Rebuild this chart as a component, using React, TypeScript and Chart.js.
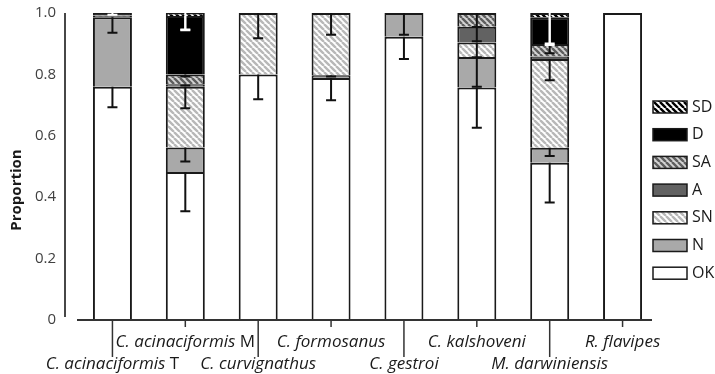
import { useEffect, useRef } from 'react';
import { Chart, registerables } from 'chart.js';

Chart.register(...registerables);

// ---- data ----
const categories = [
  'C. acinaciformis',
  'C. acinaciformis',
  'C. curvignathus',
  'C. formosanus',
  'C. gestroi',
  'C. kalshoveni',
  'M. darwiniensis',
  'R. flavipes',
];
const categorySuffix = ['T', 'M', '', '', '', '', '', ''];

const seriesNames = ['OK', 'N', 'SN', 'A', 'SA', 'D', 'SD'];
const okValues = [0.76, 0.482, 0.8, 0.788, 0.923, 0.757, 0.512, 1.0];
const nValues = [0.226, 0.08, 0, 0.009, 0.077, 0.1, 0.049, 0];
const snValues = [0.004, 0.198, 0.2, 0.203, 0, 0.047, 0.289, 0];
const aValues = [0, 0.008, 0, 0, 0, 0.051, 0.008, 0];
const saValues = [0.002, 0.032, 0, 0, 0, 0.045, 0.041, 0];
const dValues = [0.008, 0.19, 0, 0, 0, 0, 0.087, 0];
const sdValues = [0, 0.01, 0, 0, 0, 0, 0.014, 0];

// minus-direction error bars (drawn down from the top of each segment)
const okErr = [0.067, 0.128, 0.081, 0.072, 0.073, 0.131, 0.129, 0];
const nErr = [0.05, 0.046, 0, 0.004, 0.071, 0.097, 0.027, 0];
const snErr = [0, 0.07, 0.082, 0.071, 0, 0.048, 0.069, 0];
const aErr = [0, 0.004, 0, 0, 0, 0.047, 0, 0];
const saErr = [0, 0.007, 0, 0, 0, 0.046, 0.03, 0];
const dErr = [0, 0.046, 0, 0, 0, 0, 0.09, 0];
const sdErr = [0.006, 0.054, 0, 0, 0, 0, 0.099, 0];

const yTicks = [0, 0.2, 0.4, 0.6, 0.8, 1.0];

const FONT = '"Open Sans", sans-serif';

function makePattern(fg: string, bg: string, period: number, lw: number) {
  const c = document.createElement('canvas');
  c.width = period;
  c.height = period;
  const ctx = c.getContext('2d')!;
  ctx.fillStyle = bg;
  ctx.fillRect(0, 0, period, period);
  ctx.strokeStyle = fg;
  ctx.lineWidth = lw;
  ctx.beginPath();
  for (let k = -1; k <= 1; k++) {
    ctx.moveTo(k * period, 0);
    ctx.lineTo(k * period + period, period);
  }
  ctx.stroke();
  return ctx.createPattern(c, 'repeat')!;
}

export default function App() {
  const ref = useRef<HTMLCanvasElement>(null);

  useEffect(() => {
    const fills: any[] = [
      '#ffffff',
      '#a9a9a9',
      makePattern('#b8b8b8', '#ffffff', 6, 2.4),
      '#626262',
      makePattern('#5e5e5e', '#d4d4d4', 6, 2.4),
      '#000000',
      makePattern('#000000', '#ffffff', 6, 2.4),
    ];
    const values = [okValues, nValues, snValues, aValues, saValues, dValues, sdValues];
    const errs = [okErr, nErr, snErr, aErr, saErr, dErr, sdErr];
    const errColors = ['#111', '#111', '#111', '#111', '#111', '#ffffff', '#ffffff'];

    const datasets = seriesNames.map((name, i) => ({
      label: name,
      data: values[i],
      backgroundColor: fills[i],
      borderColor: '#1a1a1a',
      borderWidth: { top: 2, left: 2, right: 2, bottom: 0 },
      borderSkipped: 'start' as const,
      categoryPercentage: 1,
      barPercentage: 0.535,
    }));

    const decor = {
      id: 'decor',
      afterDatasetsDraw(chart: any) {
        const ctx = chart.ctx;
        const xs = chart.scales.x;
        const ys = chart.scales.y;
        ctx.save();
        for (let j = 0; j < categories.length; j++) {
          let cum = 0;
          for (let i = 0; i < values.length; i++) {
            cum += values[i][j];
            const e = errs[i][j];
            if (!e) continue;
            const x = xs.getPixelForValue(j);
            const y0 = ys.getPixelForValue(cum);
            const y1 = ys.getPixelForValue(cum - e);
            ctx.strokeStyle = errColors[i];
            ctx.lineWidth = 2;
            ctx.beginPath();
            ctx.moveTo(x, y0);
            ctx.lineTo(x, y1);
            ctx.moveTo(x - 5, y1);
            ctx.lineTo(x + 5, y1);
            ctx.stroke();
          }
        }
        ctx.restore();
      },
      afterDraw(chart: any) {
        const ctx = chart.ctx;
        const ca = chart.chartArea;
        const xs = chart.scales.x;
        ctx.save();
        ctx.strokeStyle = '#333';
        ctx.lineWidth = 1.8;
        // y axis line
        ctx.beginPath();
        ctx.moveTo(ca.left - 11, ca.top);
        ctx.lineTo(ca.left - 11, ca.bottom - 3);
        ctx.stroke();
        // x axis line
        ctx.beginPath();
        ctx.moveTo(ca.left + 1, ca.bottom);
        ctx.lineTo(ca.right - 7, ca.bottom);
        ctx.stroke();
        // category labels, staggered
        ctx.fillStyle = '#1a1a1a';
        ctx.textBaseline = 'middle';
        ctx.textAlign = 'left';
        for (let j = 0; j < categories.length; j++) {
          const x = xs.getPixelForValue(j);
          const lower = j % 2 === 0;
          ctx.lineWidth = 1.5;
          ctx.beginPath();
          ctx.moveTo(x, ca.bottom);
          ctx.lineTo(x, ca.bottom + (lower ? 37 : 7));
          ctx.stroke();
          const italicFont = `italic 17px ${FONT}`;
          const normalFont = `17px ${FONT}`;
          ctx.font = italicFont;
          const w1 = ctx.measureText(categories[j]).width;
          const suf = categorySuffix[j] ? ' ' + categorySuffix[j] : '';
          ctx.font = normalFont;
          const w2 = suf ? ctx.measureText(suf).width : 0;
          const start = x - (w1 + w2) / 2;
          const ty = ca.bottom + (lower ? 44 : 22);
          ctx.font = italicFont;
          ctx.fillText(categories[j], start, ty);
          if (suf) {
            ctx.font = normalFont;
            ctx.fillText(suf, start + w1, ty);
          }
        }
        // y title
        ctx.save();
        ctx.translate(17, 190);
        ctx.rotate(-Math.PI / 2);
        ctx.textAlign = 'center';
        ctx.font = `bold 15px ${FONT}`;
        ctx.fillText('Proportion', 0, 0);
        ctx.restore();
        // legend (reverse order)
        const lx = ca.right - 6;
        for (let k = 0; k < seriesNames.length; k++) {
          const i = seriesNames.length - 1 - k;
          const cy = 107 + k * 27.7;
          ctx.fillStyle = fills[i];
          ctx.fillRect(lx, cy - 6, 34, 12);
          ctx.strokeStyle = '#1a1a1a';
          ctx.lineWidth = 1.5;
          ctx.strokeRect(lx, cy - 6, 34, 12);
          ctx.fillStyle = '#1a1a1a';
          ctx.font = `16px ${FONT}`;
          ctx.textAlign = 'left';
          ctx.fillText(seriesNames[i], lx + 39, cy);
        }
        ctx.restore();
      },
    };

    const chart = new Chart(ref.current!, {
      type: 'bar',
      data: { labels: categories.map((c, i) => (categorySuffix[i] ? c + ' ' + categorySuffix[i] : c)), datasets },
      options: {
        animation: false,
        responsive: false,
        maintainAspectRatio: false,
        layout: { padding: { left: 0, right: 56, top: 13, bottom: 54 } },
        plugins: { legend: { display: false }, tooltip: { enabled: false } },
        scales: {
          x: { stacked: true, display: false },
          y: {
            stacked: true,
            min: 0,
            max: 1,
            afterFit: (s: any) => {
              s.width = 76;
              s.paddingTop = 0;
              s.paddingBottom = 0;
            },
            afterBuildTicks: (s: any) => {
              s.ticks = yTicks.map((v) => ({ value: v }));
            },
            grid: { display: false, drawTicks: false },
            border: { display: false },
            ticks: {
              padding: 20,
              color: '#404040',
              font: { size: 15, family: FONT },
              callback: (v: any) => (Number(v) === 0 ? '0' : Number(v).toFixed(1)),
            },
          },
        },
      },
      plugins: [decor],
    });
    return () => chart.destroy();
  }, []);

  return (
    <div style={{ position: 'fixed', left: 0, top: 0, width: 715, height: 374, background: '#fff' }}>
      <canvas ref={ref} width={715} height={374} style={{ width: 715, height: 374 }} />
    </div>
  );
}
